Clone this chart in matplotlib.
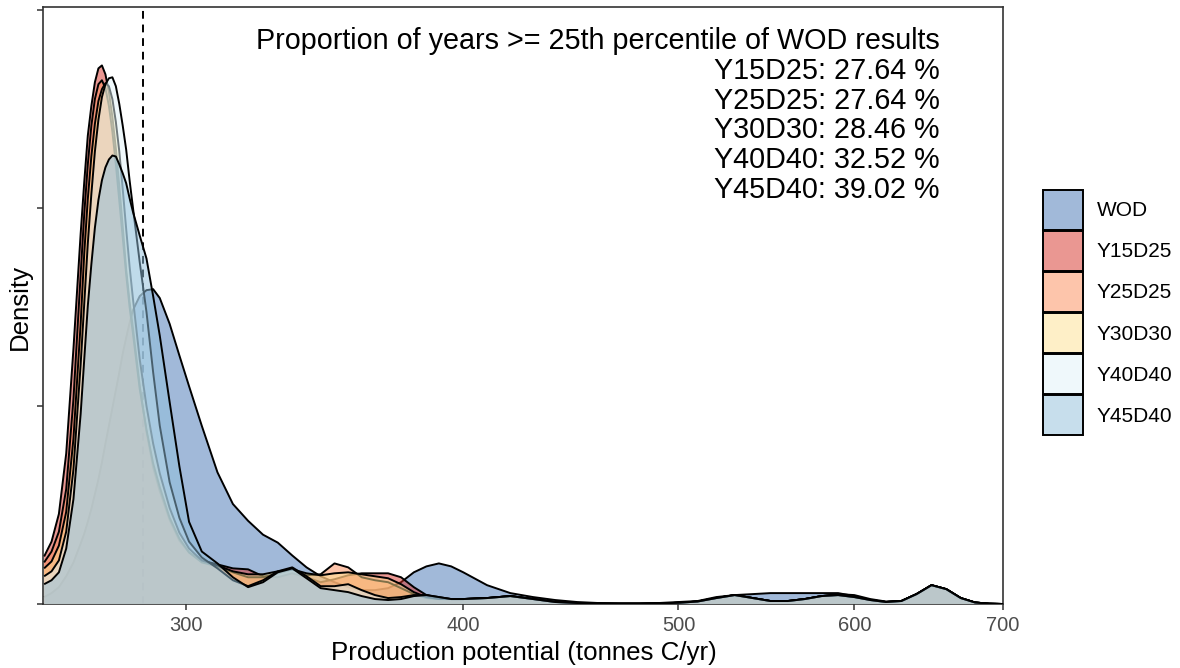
import matplotlib
matplotlib.use("Agg")
import matplotlib.pyplot as plt
from matplotlib.patches import Patch
from matplotlib.ticker import FixedLocator, FixedFormatter, NullLocator

plt.rcParams['font.family'] = ['Liberation Sans', 'DejaVu Sans']

# production potential grid (tonnes C/yr) and density per scenario
production = [259, 261, 263, 265, 267, 269, 270, 271, 272, 273, 274, 275, 276, 277, 278,
              279, 280, 281, 282, 283, 284, 286, 288, 290, 292, 295, 298, 301, 305, 310,
              315, 320, 325, 330, 335, 340, 345, 350, 355, 360, 365, 370, 375, 380, 385,
              390, 395, 400, 410, 420, 430, 440, 450, 460, 470, 480, 490, 500, 510, 520,
              530, 540, 550, 560, 570, 580, 590, 600, 610, 620, 630, 640, 650, 660, 670,
              680, 690, 700]

dens_wod = [0.07, 0.11, 0.17, 0.28, 0.42, 0.61, 0.71, 0.83, 0.96, 1.11, 1.26, 1.43, 1.62, 1.80, 1.98,
            2.16, 2.34, 2.53, 2.69, 2.84, 2.97, 3.11, 3.17, 3.18, 3.09, 2.83, 2.51, 2.20, 1.80, 1.33,
            1.01, 0.84, 0.70, 0.62, 0.49, 0.37, 0.28, 0.22, 0.17, 0.14, 0.14, 0.16, 0.22, 0.32, 0.38,
            0.41, 0.38, 0.32, 0.19, 0.11, 0.07, 0.04, 0.02, 0.01, 0.005, 0.005, 0.01, 0.02, 0.03, 0.07,
            0.09, 0.10, 0.11, 0.11, 0.11, 0.11, 0.11, 0.08, 0.04, 0.02, 0.03, 0.10, 0.19, 0.15, 0.06,
            0.015, 0.003, 0.0]

dens_y15d25 = [0.48, 0.63, 0.91, 1.52, 2.58, 3.74, 4.26, 4.73, 5.03, 5.27, 5.41, 5.44, 5.35, 5.17, 4.92,
               4.60, 4.22, 3.81, 3.38, 3.05, 2.78, 2.20, 1.74, 1.38, 1.14, 0.85, 0.64, 0.52, 0.44, 0.40,
               0.36, 0.35, 0.28, 0.27, 0.31, 0.27, 0.22, 0.25, 0.29, 0.31, 0.31, 0.31, 0.27, 0.17, 0.09,
               0.06, 0.05, 0.05, 0.06, 0.08, 0.05, 0.02, 0.01, 0.004, 0.003, 0.003, 0.006, 0.012, 0.025, 0.06,
               0.09, 0.06, 0.03, 0.03, 0.05, 0.08, 0.10, 0.09, 0.05, 0.025, 0.03, 0.10, 0.19, 0.15, 0.06,
               0.015, 0.003, 0.0]

dens_y25d25 = [0.42, 0.53, 0.73, 1.16, 2.07, 3.33, 3.94, 4.44, 4.83, 5.10, 5.25, 5.29, 5.21, 5.03, 4.77,
               4.44, 4.07, 3.70, 3.33, 3.00, 2.73, 2.17, 1.76, 1.42, 1.18, 0.87, 0.66, 0.52, 0.42, 0.38,
               0.32, 0.27, 0.27, 0.31, 0.35, 0.29, 0.30, 0.41, 0.37, 0.27, 0.24, 0.22, 0.16, 0.10, 0.06,
               0.05, 0.05, 0.05, 0.06, 0.08, 0.05, 0.02, 0.01, 0.004, 0.003, 0.003, 0.006, 0.012, 0.025, 0.06,
               0.09, 0.06, 0.03, 0.03, 0.05, 0.08, 0.09, 0.07, 0.04, 0.02, 0.03, 0.10, 0.19, 0.15, 0.06,
               0.015, 0.003, 0.0]

dens_y30d30 = [0.36, 0.43, 0.59, 0.93, 1.67, 2.83, 3.54, 4.09, 4.52, 4.85, 5.08, 5.20, 5.26, 5.23, 5.10,
               4.87, 4.57, 4.19, 3.79, 3.41, 3.08, 2.47, 2.00, 1.62, 1.32, 0.97, 0.72, 0.56, 0.44, 0.39,
               0.33, 0.30, 0.30, 0.33, 0.35, 0.31, 0.29, 0.31, 0.32, 0.30, 0.28, 0.26, 0.20, 0.12, 0.07,
               0.05, 0.05, 0.05, 0.06, 0.08, 0.05, 0.02, 0.01, 0.004, 0.003, 0.003, 0.006, 0.012, 0.025, 0.06,
               0.09, 0.06, 0.03, 0.03, 0.05, 0.08, 0.09, 0.07, 0.04, 0.02, 0.03, 0.10, 0.19, 0.15, 0.06,
               0.015, 0.003, 0.0]

dens_y40d40 = [0.28, 0.33, 0.44, 0.73, 1.36, 2.42, 3.03, 3.64, 4.14, 4.57, 4.89, 5.12, 5.25, 5.31, 5.32,
               5.23, 5.05, 4.83, 4.59, 4.28, 4.00, 3.45, 2.95, 2.34, 1.80, 1.23, 0.87, 0.63, 0.47, 0.36,
               0.24, 0.18, 0.24, 0.33, 0.37, 0.28, 0.18, 0.18, 0.20, 0.14, 0.09, 0.06, 0.07, 0.09, 0.09,
               0.07, 0.05, 0.05, 0.06, 0.08, 0.05, 0.02, 0.01, 0.004, 0.003, 0.003, 0.006, 0.012, 0.025, 0.06,
               0.09, 0.06, 0.03, 0.03, 0.05, 0.08, 0.09, 0.07, 0.04, 0.02, 0.03, 0.10, 0.19, 0.15, 0.06,
               0.015, 0.003, 0.0]

dens_y45d40 = [0.20, 0.24, 0.32, 0.56, 1.06, 1.92, 2.47, 3.01, 3.43, 3.80, 4.08, 4.28, 4.41, 4.49, 4.53,
               4.52, 4.44, 4.35, 4.25, 4.10, 3.96, 3.72, 3.49, 3.11, 2.71, 2.04, 1.39, 0.83, 0.53, 0.41,
               0.27, 0.17, 0.22, 0.32, 0.36, 0.26, 0.16, 0.14, 0.12, 0.08, 0.05, 0.04, 0.05, 0.08, 0.09,
               0.07, 0.05, 0.05, 0.06, 0.08, 0.05, 0.02, 0.01, 0.004, 0.003, 0.003, 0.006, 0.012, 0.025, 0.06,
               0.09, 0.06, 0.03, 0.03, 0.05, 0.08, 0.09, 0.07, 0.04, 0.02, 0.03, 0.10, 0.19, 0.15, 0.06,
               0.015, 0.003, 0.0]

scenarios = ["WOD", "Y15D25", "Y25D25", "Y30D30", "Y40D40", "Y45D40"]
colours = ["#4575b4", "#d73027", "#fc8d59", "#fee090", "#e0f3f8", "#91bfdb"]
share_above_p25 = [27.64, 27.64, 28.46, 32.52, 39.02]  # for the five scenarios
wod_p25 = 287
x_ticks = [300, 400, 500, 600, 700]

densities = [dens_wod, dens_y15d25, dens_y25d25, dens_y30d30, dens_y40d40, dens_y45d40]

W, H = 1180, 668
fig = plt.figure(figsize=(W / 100, H / 100), dpi=100)
ax = fig.add_axes([43 / W, 1 - 604 / H, (1003 - 43) / W, (604 - 7) / H])

ax.axvline(wod_p25, color="black", lw=1.4, ls=(0, (4, 3)), zorder=1)

for i, (vals, col) in enumerate(zip(densities, colours)):
    ax.fill_between(production, vals, 0, facecolor=col, alpha=0.5, lw=0, zorder=2 + 2 * i)
    ax.plot(production, vals, color="black", lw=1.4, zorder=3 + 2 * i, solid_capstyle="butt")

ax.set_xscale("log")
ax.set_xlim(258.7, 700)
ax.set_ylim(0, 6.03)
ax.xaxis.set_major_locator(FixedLocator(x_ticks))
ax.xaxis.set_major_formatter(FixedFormatter([str(t) for t in x_ticks]))
ax.xaxis.set_minor_locator(NullLocator())
ax.set_yticks([0, 2, 4, 6])
ax.set_yticklabels([])

for sp in ax.spines.values():
    sp.set_color("#333333")
    sp.set_linewidth(1.2)
ax.tick_params(axis="both", length=4, width=1.1, color="#333333", direction="out")
ax.tick_params(axis="x", labelsize=14.5, labelcolor="#4d4d4d", pad=4.5)

fig.text(524 / W, 1 - 653 / H, "Production potential (tonnes C/yr)", ha="center", va="center", fontsize=18.6)
fig.text(20 / W, 1 - 307 / H, "Density", ha="center", va="center", rotation=90, fontsize=18.6)

lines = ["Proportion of years >= 25th percentile of WOD results"]
lines += [f"{name}: {val:.2f} %" for name, val in zip(scenarios[1:], share_above_p25)]
fig.text(940 / W, 1 - 27 / H, "\n".join(lines), ha="right", va="top", fontsize=20.7,
         linespacing=1.08, multialignment="right")

handles = [Patch(facecolor=matplotlib.colors.to_rgba(c, 0.5), edgecolor="black", linewidth=1.4)
           for c in colours]
fig.legend(handles, scenarios, loc="upper left", bbox_to_anchor=(1043 / W, 1 - 190 / H),
           frameon=False, fontsize=15, handlelength=1.92, handleheight=2.58,
           labelspacing=0.05, handletextpad=0.67, borderpad=0, borderaxespad=0)

fig.savefig("out.png", dpi=100)
